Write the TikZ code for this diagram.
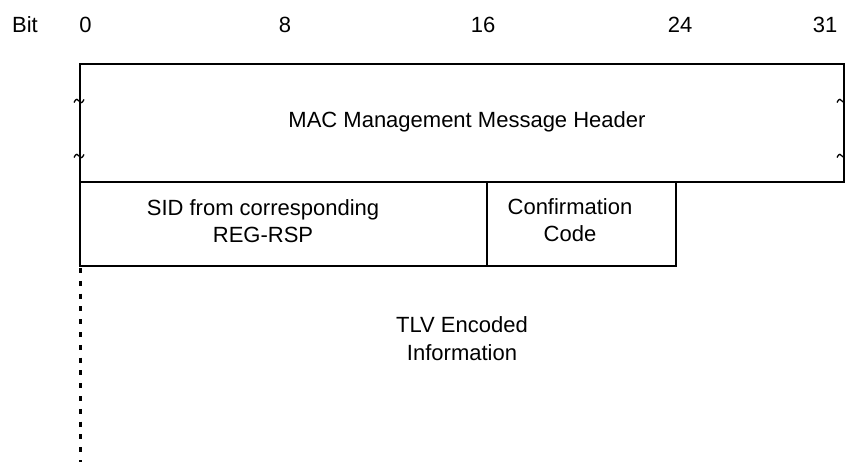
\documentclass[tikz,border=0pt]{standalone}
\usepackage{fontspec}
\setmainfont{Liberation Sans}
\begin{document}
\begin{tikzpicture}[x=1pt,y=-1pt,
  lbl/.style={font=\fontsize{22}{27.5}\selectfont, inner sep=0pt, anchor=base, align=center},
  solidline/.style={line width=1.5pt, draw=black},
  dashline/.style={line width=3pt, draw=black, dash pattern=on 5pt off 7.8pt},
  tildemark/.style={line width=1.3pt, draw=black}
]
\useasboundingbox (0,0) rectangle (845,462);
% bit scale
\node[lbl] (bit) at (25,33) {Bit};
\node[lbl] (b0) at (85.5,33) {0};
\node[lbl] (b8) at (285,33) {8};
\node[lbl] (b16) at (483,33) {16};
\node[lbl] (b24) at (680,33) {24};
\node[lbl] (b31) at (825,33) {31};
% coordinates
\coordinate (hTL) at (80,64);
\coordinate (hTR) at (844,64);
\coordinate (hBL) at (80,182);
\coordinate (hBR) at (844,182);
\coordinate (sBR) at (487,266);
\coordinate (sTR) at (487,182);
\coordinate (cBR) at (676,266);
\coordinate (cTR) at (676,182);
\coordinate (rBL) at (80,266);
\coordinate (dEnd) at (80,465);
% header box
\draw[solidline] (hBL) -- (hTL) -- (hTR) -- (hBR) -- (hBL);
% row 2
\draw[solidline] (hBL) -- (rBL) -- (cBR) -- (cTR);
\draw[solidline] (sTR) -- (sBR);
% dashed continuation
\draw[dashline] (80,268) -- (dEnd);
% tildes
\foreach \tx/\ty in {79/101, 79/156, 842/101, 842/156}{
  \draw[tildemark] (\tx-5,\ty+1.5) .. controls (\tx-3,\ty-3) and (\tx-1,\ty-2) .. (\tx,\ty)
     .. controls (\tx+1,\ty+2) and (\tx+3,\ty+3) .. (\tx+5,\ty-1.5);
}
% texts
\node[lbl] (hdr) at (467,128) {MAC Management Message Header};
\node[lbl] (sid) at (263,243) {SID from corresponding\\REG-RSP};
\node[lbl] (conf) at (570,242) {Confirmation\\Code};
\node[lbl] (tlv) at (462,360) {TLV Encoded\\Information};
\end{tikzpicture}
\end{document}
